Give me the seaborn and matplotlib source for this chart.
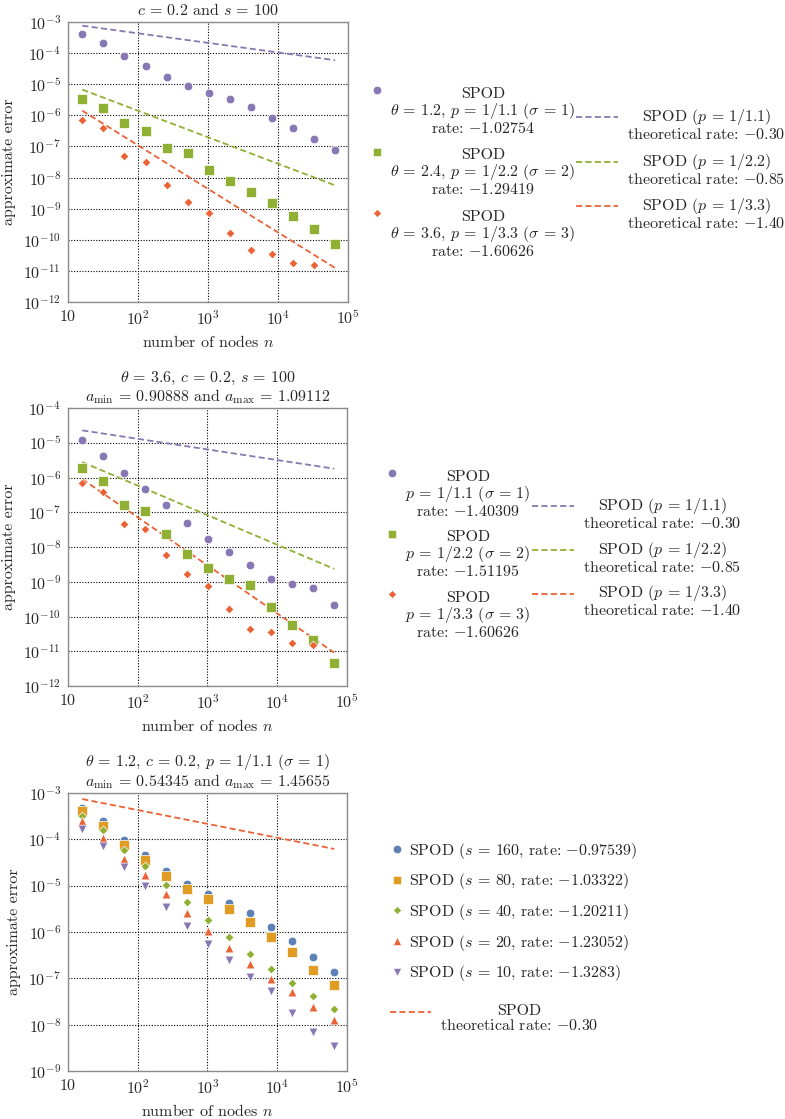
import matplotlib
matplotlib.use("Agg")
import numpy as np
import pandas as pd
import matplotlib.pyplot as plt
from matplotlib.lines import Line2D
from matplotlib.legend_handler import HandlerLine2D
from matplotlib.ticker import FixedLocator, FuncFormatter, NullLocator
import seaborn as sns

# --- data ---
N_NODES = [16, 32, 64, 128, 256, 512, 1024, 2048, 4096, 8192, 16384, 32768, 65536]
N_ENDS = [16, 65536]  # start / end of the theoretical-rate lines

# panel 1: c = 0.2, s = 100
P1_SIG1 = [4.2e-4, 2.1e-4, 8.1e-5, 3.9e-5, 1.7e-5, 9.0e-6, 5.4e-6, 3.3e-6,
           1.85e-6, 8.2e-7, 3.9e-7, 1.7e-7, 7.9e-8]
P1_SIG2 = [3.35e-6, 1.76e-6, 5.5e-7, 3.1e-7, 9.1e-8, 6.2e-8, 1.75e-8, 7.7e-9,
           3.4e-9, 1.5e-9, 6.0e-10, 2.3e-10, 7.3e-11]
P1_SIG3 = [6.9e-7, 3.8e-7, 4.8e-8, 3.2e-8, 5.9e-9, 1.64e-9, 7.4e-10, 1.7e-10,
           4.6e-11, 3.5e-11, 1.8e-11, 1.5e-11]
P1_TH1 = [7.6e-4, 5.9e-5]
P1_TH2 = [6.7e-6, 5.6e-9]
P1_TH3 = [1.41e-6, 1.24e-11]

# panel 2: theta = 3.6, c = 0.2, s = 100
P2_SIG1 = [1.22e-5, 4.2e-6, 1.31e-6, 4.6e-7, 1.57e-7, 4.96e-8, 1.75e-8, 7.2e-9,
           3.06e-9, 1.23e-9, 8.5e-10, 6.4e-10, 2.15e-10]
P2_SIG2 = [1.87e-6, 7.7e-7, 1.57e-7, 1.08e-7, 2.39e-8, 6.5e-9, 2.56e-9, 1.18e-9,
           8.1e-10, 1.92e-10, 5.8e-11, 2.1e-11, 4.5e-12]
P2_SIG3 = [7.0e-7, 3.9e-7, 4.7e-8, 3.3e-8, 5.8e-9, 1.65e-9, 7.3e-10, 1.69e-10,
           4.5e-11, 3.5e-11, 1.77e-11, 1.55e-11]
P2_TH1 = [2.27e-5, 1.79e-6]
P2_TH2 = [2.78e-6, 2.34e-9]
P2_TH3 = [9.0e-7, 9.1e-12]

# panel 3: theta = 1.2, c = 0.2, p = 1/1.1
P3_S160 = [4.7e-4, 2.44e-4, 9.5e-5, 4.65e-5, 2.1e-5, 1.1e-5, 6.7e-6, 4.26e-6,
           2.6e-6, 1.29e-6, 6.4e-7, 2.9e-7, 1.4e-7]
P3_S80 = [4.0e-4, 1.97e-4, 7.6e-5, 3.6e-5, 1.63e-5, 8.6e-6, 5.1e-6, 3.1e-6,
          1.68e-6, 7.7e-7, 3.7e-7, 1.52e-7, 7.1e-8]
P3_S40 = [3.2e-4, 1.56e-4, 5.9e-5, 2.6e-5, 1.03e-5, 4.4e-6, 1.8e-6, 7.7e-7,
          3.4e-7, 1.57e-7, 7.8e-8, 4.1e-8, 2.2e-8]
P3_S20 = [2.44e-4, 1.06e-4, 3.8e-5, 1.66e-5, 6.6e-6, 2.6e-6, 1.06e-6, 4.6e-7,
          2.0e-7, 9.9e-8, 5.0e-8, 2.45e-8, 1.26e-8]
P3_S10 = [1.67e-4, 7.3e-5, 2.5e-5, 9.9e-6, 3.4e-6, 1.38e-6, 5.4e-7, 2.5e-7,
          1.07e-7, 5.2e-8, 1.76e-8, 6.9e-9, 3.5e-9]
P3_TH = [7.4e-4, 6.2e-5]

P1_LABELS = [
    "SPOD\n$\\theta = 1.2$, $p = 1/1.1$ $(\\sigma = 1)$\nrate: $-1.02754$",
    "SPOD\n$\\theta = 2.4$, $p = 1/2.2$ $(\\sigma = 2)$\nrate: $-1.29419$",
    "SPOD\n$\\theta = 3.6$, $p = 1/3.3$ $(\\sigma = 3)$\nrate: $-1.60626$",
]
P2_LABELS = [
    "SPOD\n$p = 1/1.1$ $(\\sigma = 1)$\nrate: $-1.40309$",
    "SPOD\n$p = 1/2.2$ $(\\sigma = 2)$\nrate: $-1.51195$",
    "SPOD\n$p = 1/3.3$ $(\\sigma = 3)$\nrate: $-1.60626$",
]
TH_LABELS = [
    "SPOD $(p = 1/1.1)$\ntheoretical rate: $-0.30$",
    "SPOD $(p = 1/2.2)$\ntheoretical rate: $-0.85$",
    "SPOD $(p = 1/3.3)$\ntheoretical rate: $-1.40$",
]
P3_LABELS = [
    "SPOD $(s = 160$, rate: $-0.97539)$",
    "SPOD $(s = 80$, rate: $-1.03322)$",
    "SPOD $(s = 40$, rate: $-1.20211)$",
    "SPOD $(s = 20$, rate: $-1.23052)$",
    "SPOD $(s = 10$, rate: $-1.3283)$",
]
P3_TH_LABEL = "SPOD\ntheoretical rate: $-0.30$"

BLUE, ORANGE, GREEN, RED, PURPLE = "#5E81B5", "#E19C24", "#8FB032", "#EB6235", "#8778B3"

sns.set_style("white")
plt.rcParams["font.family"] = "serif"
plt.rcParams["font.serif"] = ["cmr10", "DejaVu Serif"]
plt.rcParams["mathtext.fontset"] = "cm"
plt.rcParams["axes.unicode_minus"] = False
plt.rcParams["axes.formatter.use_mathtext"] = True
FS = 11.5

W, H = 785, 1119
fig = plt.figure(figsize=(W / 100, H / 100), dpi=100)


def tx(s):
    # LaTeX-like room around the equals sign
    return s.replace(" = ", "\\,=\\,")


def add_axes(left, top, right, bottom):
    return fig.add_axes([left / W, 1 - bottom / H, (right - left) / W, (bottom - top) / H])


class LiftedHandler(HandlerLine2D):
    """Put the legend handle on the first text line instead of the last."""
    def __init__(self, lift=0.0, **kw):
        super().__init__(**kw)
        self.lift = lift

    def create_artists(self, legend, orig_handle, xdescent, ydescent, width, height, fontsize, trans):
        return super().create_artists(legend, orig_handle, xdescent, ydescent - 2 * self.lift * fontsize,
                                      width, height, fontsize, trans)


def style_axes(ax, ymin_exp, ymax_exp):
    ax.set_xscale("log")
    ax.set_yscale("log")
    ax.set_xlim(10, 1e5)
    ax.set_ylim(10.0 ** ymin_exp, 10.0 ** ymax_exp)
    ax.xaxis.set_major_locator(FixedLocator([10, 1e2, 1e3, 1e4, 1e5]))
    ax.xaxis.set_minor_locator(NullLocator())
    ax.xaxis.set_major_formatter(FuncFormatter(
        lambda v, p: "$10$" if v < 50 else "$10^{%d}$" % round(np.log10(v))))
    ax.yaxis.set_major_locator(FixedLocator([10.0 ** e for e in range(ymin_exp, ymax_exp + 1)]))
    ax.yaxis.set_minor_locator(NullLocator())
    ax.yaxis.set_major_formatter(FuncFormatter(lambda v, p: "$10^{%d}$" % round(np.log10(v))))
    ax.tick_params(length=0, labelsize=FS, pad=5)
    ax.grid(True, which="major", color="black", linestyle=(0, (1, 1.5)), linewidth=0.8)
    for sp in ax.spines.values():
        sp.set_color("#8c8c8c")
        sp.set_linewidth(1.0)
    ax.set_xlabel("number of nodes $n$", fontsize=FS, labelpad=5)
    ax.set_ylabel("approximate error", fontsize=FS, labelpad=5)


def scatter(ax, y, marker, color, size):
    sns.scatterplot(x=N_NODES[:len(y)], y=y, marker=marker, color=color, s=size,
                    edgecolor="white", linewidth=0.5, ax=ax, legend=False, zorder=3)


def theory(ax, y, color):
    sns.lineplot(x=N_ENDS, y=y, color=color, linestyle=(0, (3.4, 1.8)), linewidth=1.3,
                 ax=ax, legend=False, zorder=2)


def mk(marker, color, ms):
    return Line2D([], [], marker=marker, linestyle="none", color=color, markersize=ms,
                  markeredgecolor="white", markeredgewidth=0.4)


def ln(color):
    return Line2D([], [], color=color, linestyle=(0, (3.4, 1.8)), linewidth=1.3)


def place_legend(handles, labels, cx, cy, lift, handlelength, handletextpad, labelspacing,
                 center=True, linespacing=1.0):
    leg = fig.legend(handles, [tx(l) for l in labels], loc="center",
                     bbox_to_anchor=(cx / W, 1 - cy / H),
                     frameon=False, fontsize=FS, borderpad=0, borderaxespad=0,
                     handlelength=handlelength, handletextpad=handletextpad,
                     labelspacing=labelspacing,
                     handler_map={Line2D: LiftedHandler(lift=lift)})
    for t in leg.get_texts():
        if center:
            t.set_multialignment("center")
        t.set_linespacing(linespacing)
    return leg


MS = {"o": 38, "s": 44, "D": 20, "^": 40, "v": 40}
LIFT3 = 1.32  # handle onto first of three text lines
LIFT2 = 0.44  # handle onto first of two text lines

# ---- panel 1 ----
ax1 = add_axes(68, 22, 348, 302)
scatter(ax1, P1_SIG1, "o", PURPLE, MS["o"])
scatter(ax1, P1_SIG2, "s", GREEN, MS["s"])
scatter(ax1, P1_SIG3, "D", RED, MS["D"])
theory(ax1, P1_TH1, PURPLE)
theory(ax1, P1_TH2, GREEN)
theory(ax1, P1_TH3, RED)
style_axes(ax1, -12, -3)
ax1.set_title(tx("$c = 0.2$ and $s = 100$"), fontsize=FS, pad=5)

place_legend([mk("o", PURPLE, 6), mk("s", GREEN, 5.5), mk("D", RED, 4)], P1_LABELS,
             473, 173, LIFT3, 0.8, 0.45, 0.8)
place_legend([ln(PURPLE), ln(GREEN), ln(RED)], TH_LABELS,
             681, 169, LIFT2, 2.6, 0.6, 0.6)

# ---- panel 2 ----
ax2 = add_axes(68, 408, 347, 686)
scatter(ax2, P2_SIG1, "o", PURPLE, MS["o"])
scatter(ax2, P2_SIG2, "s", GREEN, MS["s"])
scatter(ax2, P2_SIG3, "D", RED, MS["D"])
theory(ax2, P2_TH1, PURPLE)
theory(ax2, P2_TH2, GREEN)
theory(ax2, P2_TH3, RED)
style_axes(ax2, -12, -4)
ax2.set_title(tx("$\\theta = 3.6$, $c = 0.2$, $s = 100$\n"
                 "$a_{\\mathrm{min}} = 0.90888$ and $a_{\\mathrm{max}} = 1.09112$"),
              fontsize=FS, pad=5, linespacing=1.0)

place_legend([mk("o", PURPLE, 6), mk("s", GREEN, 5.5), mk("D", RED, 4)], P2_LABELS,
             458, 555, LIFT3, 0.8, 0.45, 0.75)
place_legend([ln(PURPLE), ln(GREEN), ln(RED)], TH_LABELS,
             637, 557, LIFT2, 2.6, 0.6, 0.55)

# ---- panel 3 ----
ax3 = add_axes(68, 793, 347, 1071)
scatter(ax3, P3_S160, "o", BLUE, MS["o"])
scatter(ax3, P3_S80, "s", ORANGE, MS["s"])
scatter(ax3, P3_S40, "D", GREEN, MS["D"])
scatter(ax3, P3_S20, "^", RED, MS["^"])
scatter(ax3, P3_S10, "v", PURPLE, MS["v"])
theory(ax3, P3_TH, RED)
style_axes(ax3, -9, -3)
ax3.set_title(tx("$\\theta = 1.2$, $c = 0.2$, $p = 1/1.1$ $(\\sigma = 1)$\n"
                 "$a_{\\mathrm{min}} = 0.54345$ and $a_{\\mathrm{max}} = 1.45655$"),
              fontsize=FS, pad=5, linespacing=1.0)

place_legend([mk("o", BLUE, 6), mk("s", ORANGE, 5.5), mk("D", GREEN, 4),
              mk("^", RED, 6), mk("v", PURPLE, 6)], P3_LABELS,
             514, 912, 0.0, 0.8, 0.35, 0.67, center=False)
place_legend([ln(RED)], [P3_TH_LABEL], 494, 1019, LIFT2, 2.6, 0.55, 1.0)

fig.savefig("out.png", dpi=100)
